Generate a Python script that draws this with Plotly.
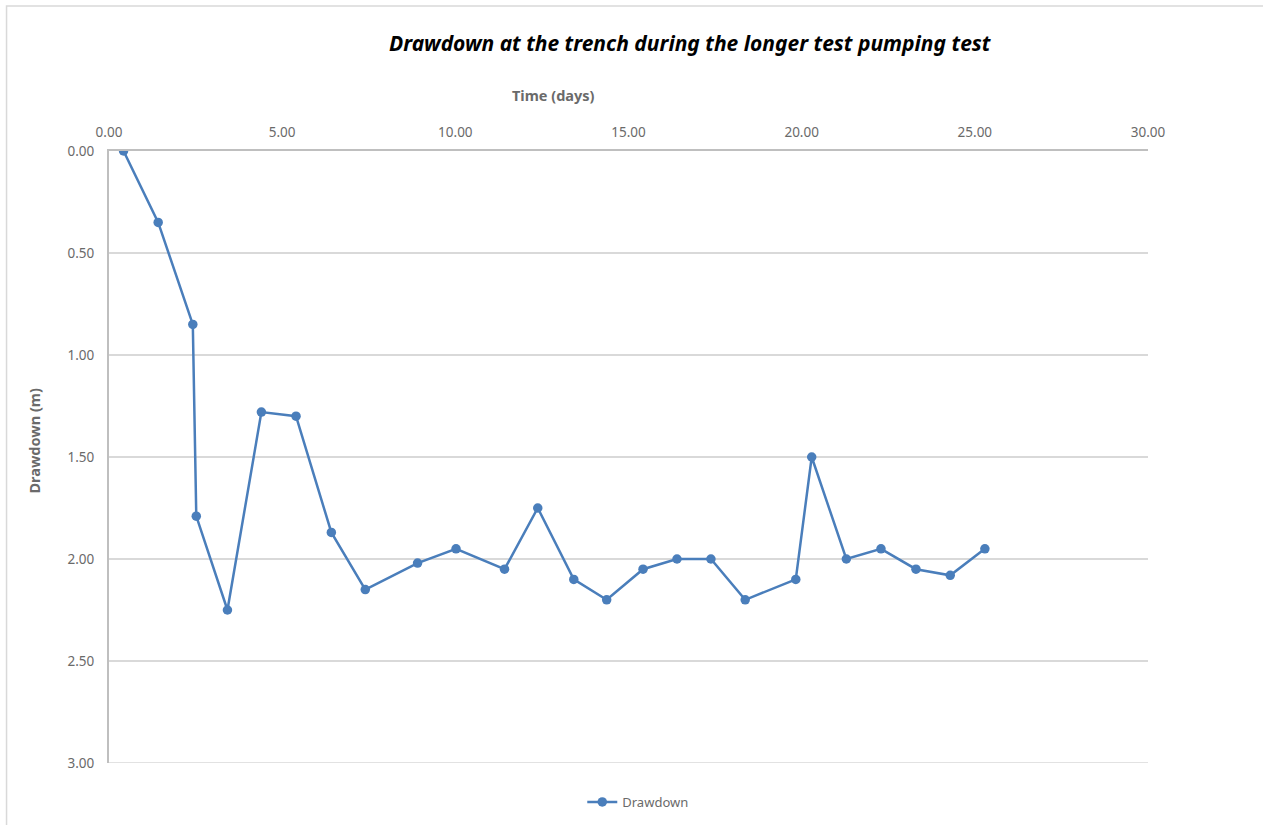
import plotly.graph_objects as go

# Time since start of pumping (days) and measured drawdown at the trench (m)
time_days = [0.42, 1.42, 2.42, 2.52, 3.42, 4.40, 5.40, 6.42, 7.40, 8.91,
             10.02, 11.42, 12.38, 13.42, 14.37, 15.42, 16.40, 17.38, 18.37,
             19.83, 20.29, 21.29, 22.29, 23.30, 24.29, 25.29]
drawdown_m = [0.00, 0.35, 0.85, 1.79, 2.25, 1.28, 1.30, 1.87, 2.15, 2.02,
              1.95, 2.05, 1.75, 2.10, 2.20, 2.05, 2.00, 2.00, 2.20,
              2.10, 1.50, 2.00, 1.95, 2.05, 2.08, 1.95]

series_name = "Drawdown"
chart_title = "Drawdown at the trench during the longer test pumping test"
x_title = "Time (days)"
y_title = "Drawdown (m)"

FONT = "Noto Sans, Liberation Sans, sans-serif"
BLUE = "#4a7ebb"
GREY_TXT = "#6a6a6a"
GRID = "#d9d9d9"

fig = go.Figure()
fig.add_trace(go.Scatter(
    x=time_days, y=drawdown_m, name=series_name,
    mode="lines+markers",
    line=dict(color=BLUE, width=2.5),
    marker=dict(color=BLUE, size=9.5),
))

W, H = 1263, 825
L, R, T, B = 108.5, 1148, 151, 763


def px_x(p):
    return (p - L) / (R - L)


def px_y(p):
    return (B - p) / (B - T)


fig.update_layout(
    width=W, height=H,
    margin=dict(l=L, r=W - R, t=T, b=H - B, autoexpand=False),
    paper_bgcolor="white", plot_bgcolor="white",
    font=dict(family=FONT, size=13, color=GREY_TXT),
    showlegend=True,
    legend=dict(orientation="h", x=px_x(582), xanchor="left",
                y=px_y(802), yanchor="middle",
                font=dict(size=13, color=GREY_TXT),
                itemwidth=30, bgcolor="rgba(0,0,0,0)"),
    xaxis=dict(range=[0, 30], dtick=5, tickformat=".2f", side="top",
               showgrid=False, zeroline=False,
               showline=True, linecolor="#bfbfbf", linewidth=2,
               ticks="", ticklabelstandoff=7,
               tickfont=dict(size=13.5, color=GREY_TXT)),
    yaxis=dict(range=[3, 0], dtick=0.5, tickformat=".2f",
               showgrid=True, gridcolor=GRID, gridwidth=1.5,
               zeroline=False,
               showline=True, linecolor="#bfbfbf", linewidth=2,
               ticks="", ticklabelstandoff=10,
               tickfont=dict(size=13.5, color=GREY_TXT)),
    annotations=[
        dict(text=f"<b><i>{chart_title}</i></b>", xref="paper", yref="paper",
             x=px_x(690), y=px_y(43), xanchor="center", yanchor="middle",
             showarrow=False, font=dict(size=21, color="black", family=FONT)),
        dict(text=f"<b>{x_title}</b>", xref="paper", yref="paper",
             x=px_x(553), y=px_y(95), xanchor="center", yanchor="middle",
             showarrow=False, font=dict(size=14.5, color=GREY_TXT, family=FONT)),
        dict(text=f"<b>{y_title}</b>", xref="paper", yref="paper",
             x=px_x(33), y=px_y(441), xanchor="center", yanchor="middle",
             textangle=-90, showarrow=False,
             font=dict(size=14.5, color=GREY_TXT, family=FONT)),
    ],
    shapes=[
        # outer chart border
        dict(type="rect", xref="paper", yref="paper",
             x0=px_x(6), x1=px_x(1275), y0=px_y(840), y1=px_y(6),
             line=dict(color=GRID, width=1.5), fillcolor="rgba(0,0,0,0)",
             layer="below"),
        # gridline at the bottom edge of the value axis
        dict(type="line", xref="paper", yref="y",
             x0=0, x1=1, y0=3, y1=3,
             line=dict(color=GRID, width=1.5), layer="below"),
    ],
)

fig.write_html("out.html")
